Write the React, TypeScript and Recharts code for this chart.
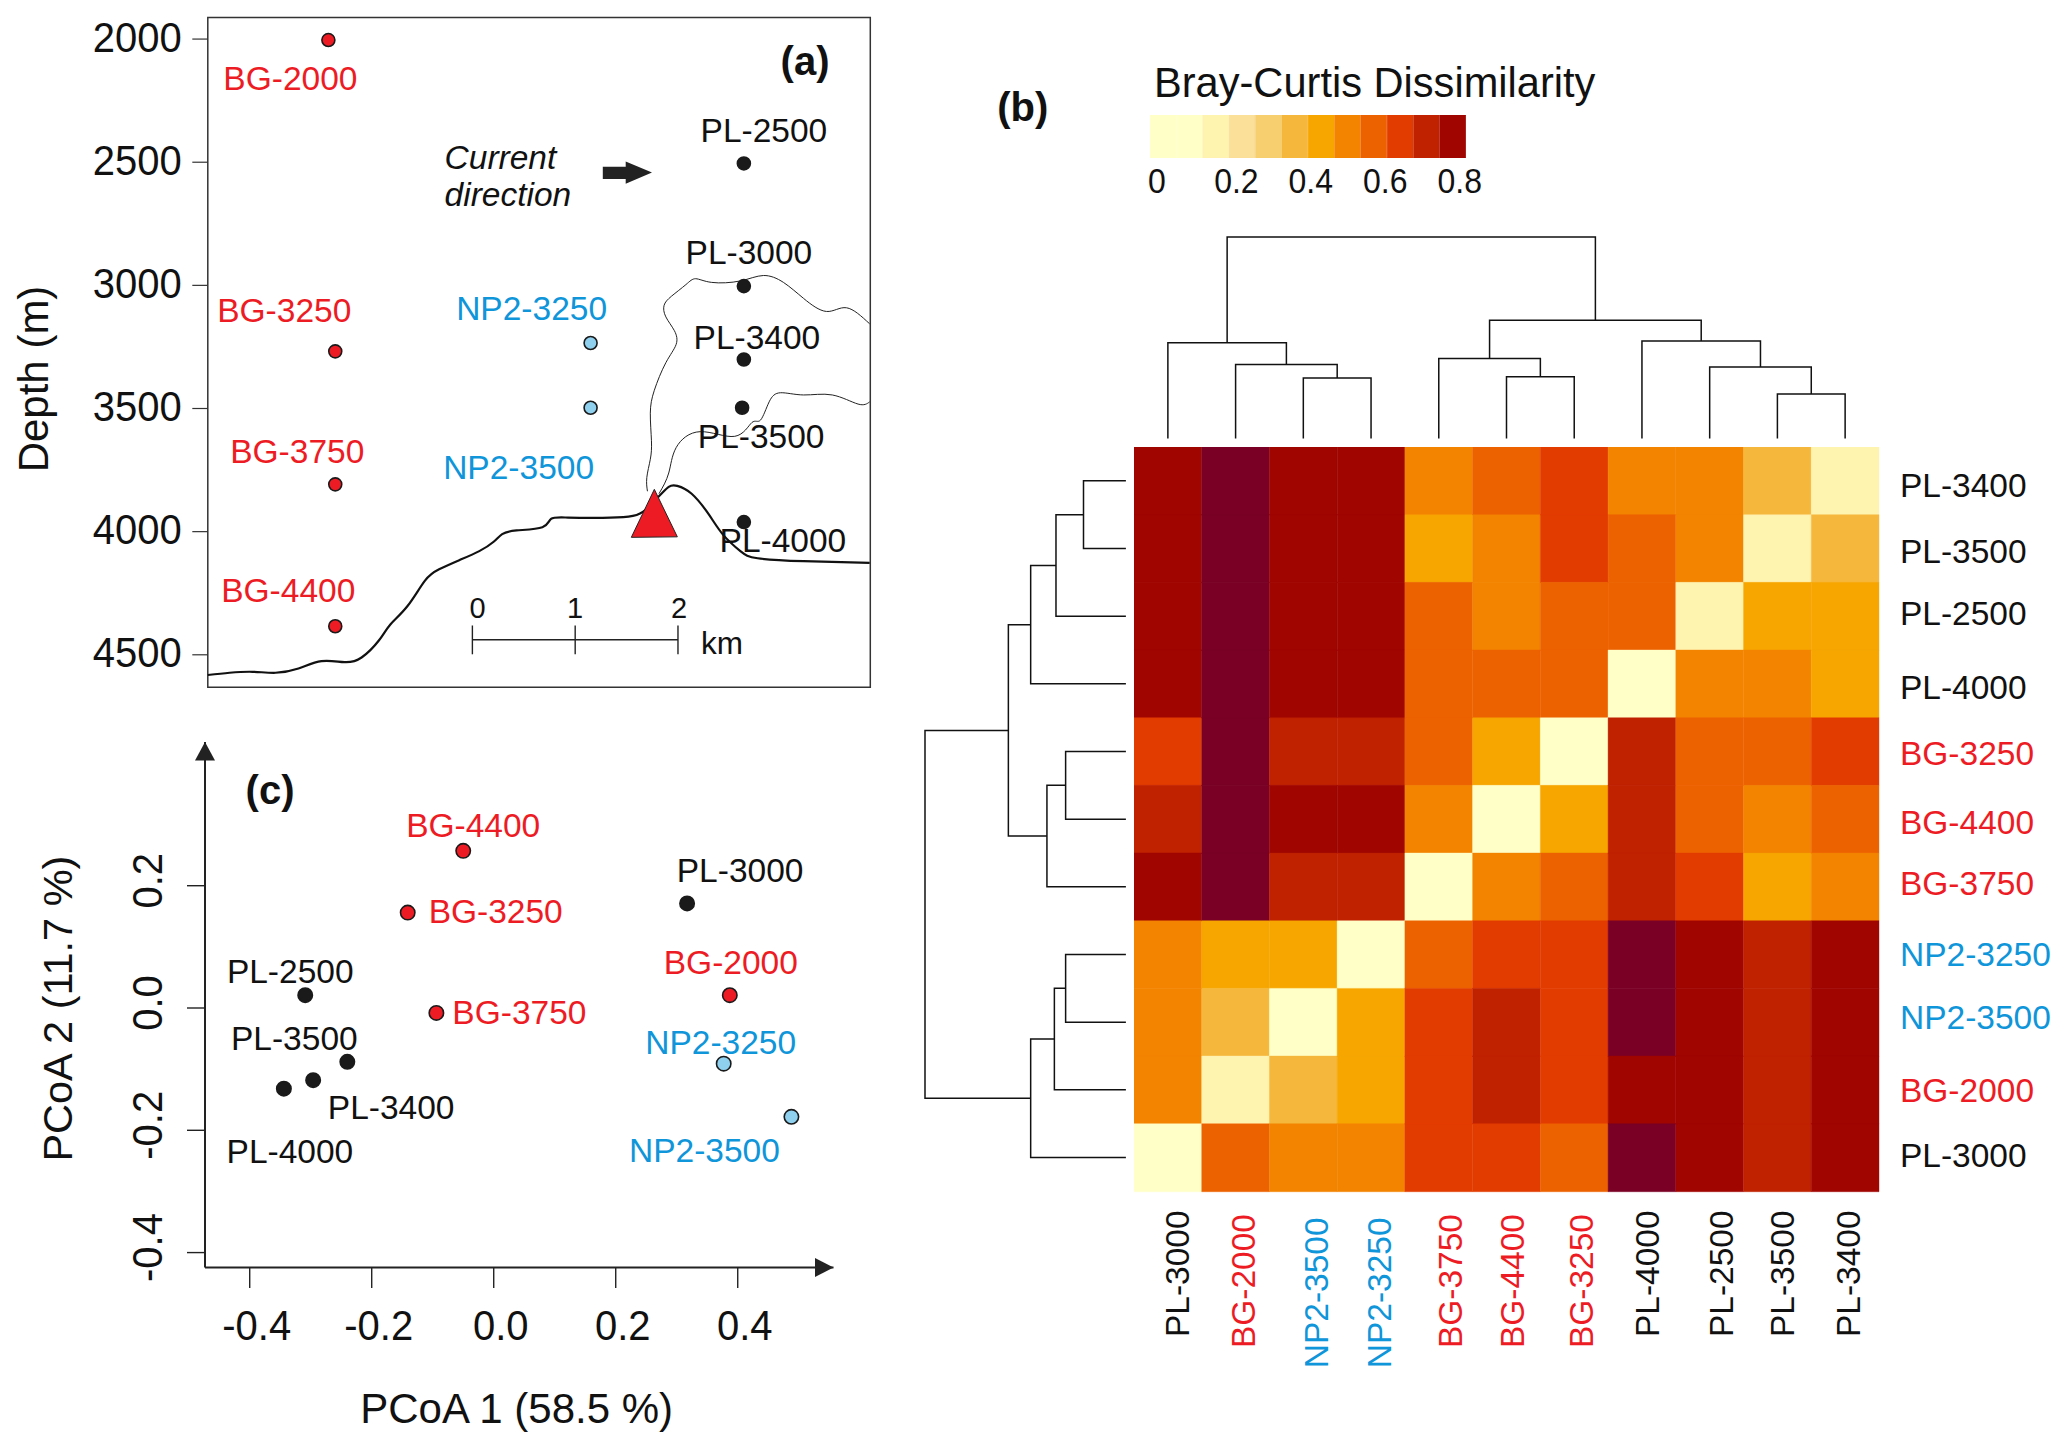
import React from 'react'
import { BarChart, Bar, Cell, ScatterChart, Scatter, XAxis, YAxis, ReferenceArea, ReferenceLine } from 'recharts'

const FONT = '"Liberation Sans", Arial, sans-serif'
const RED = '#ed1c24'
const BLUE = '#0f95d9'
const INK = '#111111'

// (a) stations: km along the transect, depth in m
const stationNames = ['BG-2000', 'BG-3250', 'BG-3750', 'BG-4400', 'NP2-3250', 'NP2-3500', 'PL-2500', 'PL-3000', 'PL-3400', 'PL-3500', 'PL-4000']
const stationKm = [-1.401, -1.334, -1.334, -1.334, 1.15, 1.15, 2.641, 2.641, 2.641, 2.624, 2.641]
const stationDepth = [2004, 3268, 3808, 4384, 3234, 3497, 2505, 3003, 3301, 3497, 3961]

// (a) bathymetry
const seabedKm = [-2.574, -2.362, -2.138, -1.915, -1.692, -1.468, -1.245, -1.078, -0.91, -0.798, -0.631, -0.463, -0.324, -0.128, 0.067, 0.207, 0.29, 0.43, 0.681, 0.765, 0.932, 1.267, 1.519, 1.658, 1.798, 1.91, 1.993, 2.133, 2.3, 2.44, 2.607, 2.775, 3.222, 3.865]
const seabedDepth = [4582, 4573, 4569, 4573, 4556, 4526, 4530, 4511, 4442, 4377, 4302, 4200, 4153, 4116, 4079, 4041, 4010, 3995, 3982, 3948, 3943, 3944, 3939, 3920, 3864, 3818, 3814, 3846, 3930, 4013, 4079, 4108, 4120, 4127]
const upperKm = [1.703, 1.697, 1.731, 1.742, 1.731, 1.77, 1.882, 1.982, 1.965, 1.882, 1.865, 1.937, 2.077, 2.172, 2.328, 2.607, 2.831, 3.026, 3.222, 3.445, 3.64, 3.864]
const upperDepth = [3836, 3780, 3706, 3631, 3519, 3426, 3314, 3240, 3184, 3128, 3081, 3044, 2997, 2973, 2988, 2982, 2960, 2988, 3053, 3106, 3091, 3156]
const lowerKm = [1.815, 1.91, 1.982, 2.217, 2.552, 2.719, 2.803, 2.887, 2.998, 3.222, 3.501, 3.752, 3.865]
const lowerDepth = [3846, 3762, 3659, 3594, 3613, 3557, 3547, 3473, 3436, 3445, 3445, 3482, 3473]
const depthTicks = [2000, 2500, 3000, 3500, 4000, 4500]

// (c) ordination
const pcoaNames = ['BG-4400', 'BG-3250', 'BG-3750', 'BG-2000', 'NP2-3250', 'NP2-3500', 'PL-3000', 'PL-2500', 'PL-3500', 'PL-3400', 'PL-4000']
const pcoa1 = [-0.05, -0.141, -0.094, 0.387, 0.377, 0.488, 0.317, -0.309, -0.24, -0.296, -0.344]
const pcoa2 = [0.257, 0.156, -0.008, 0.021, -0.091, -0.178, 0.171, 0.021, -0.088, -0.118, -0.132]
const pcoaXTicks = [-0.4, -0.2, 0, 0.2, 0.4]
const pcoaYTicks = [-0.4, -0.2, 0, 0.2]

// (b) heatmap
const rowNames = ['PL-3400', 'PL-3500', 'PL-2500', 'PL-4000', 'BG-3250', 'BG-4400', 'BG-3750', 'NP2-3250', 'NP2-3500', 'BG-2000', 'PL-3000']
const colNames = ['PL-3000', 'BG-2000', 'NP2-3500', 'NP2-3250', 'BG-3750', 'BG-4400', 'BG-3250', 'PL-4000', 'PL-2500', 'PL-3500', 'PL-3400']
const dissimilarity = [
  [0.77, 0.85, 0.77, 0.77, 0.5, 0.57, 0.63, 0.5, 0.5, 0.37, 0.15],
  [0.77, 0.85, 0.77, 0.77, 0.43, 0.5, 0.63, 0.57, 0.5, 0.15, 0.37],
  [0.77, 0.85, 0.77, 0.77, 0.57, 0.5, 0.57, 0.57, 0.15, 0.43, 0.43],
  [0.77, 0.85, 0.77, 0.77, 0.57, 0.57, 0.57, 0, 0.5, 0.5, 0.43],
  [0.63, 0.85, 0.7, 0.7, 0.57, 0.43, 0, 0.7, 0.57, 0.57, 0.63],
  [0.7, 0.85, 0.77, 0.77, 0.5, 0, 0.43, 0.7, 0.57, 0.5, 0.57],
  [0.77, 0.85, 0.7, 0.7, 0, 0.5, 0.57, 0.7, 0.63, 0.43, 0.5],
  [0.5, 0.43, 0.43, 0, 0.57, 0.63, 0.63, 0.85, 0.77, 0.7, 0.77],
  [0.5, 0.37, 0, 0.43, 0.63, 0.7, 0.63, 0.85, 0.77, 0.7, 0.77],
  [0.5, 0.15, 0.37, 0.43, 0.63, 0.7, 0.63, 0.77, 0.77, 0.7, 0.77],
  [0, 0.57, 0.5, 0.5, 0.63, 0.63, 0.57, 0.85, 0.77, 0.7, 0.77],
]
const binColors = ['#ffffc8', '#ffffc8', '#fff3b0', '#fbe09a', '#f7cf6e', '#f6b83c', '#f7a600', '#f38400', '#ed6200', '#e23c00', '#c02200', '#a00500', '#7a0026']
const legendLabels = ['0', '0.2', '0.4', '0.6', '0.8']

// dendrograms, hclust style merge: negative = leaf, positive = earlier merge
const colMerge = [[-3, -4], [-2, 1], [-1, 2], [-6, -7], [-5, 4], [-10, -11], [-9, 6], [-8, 7], [5, 8], [3, 9]]
const colHeight = [0.301, 0.367, 0.476, 0.307, 0.397, 0.221, 0.355, 0.484, 0.587, 1]
const rowMerge = [[-1, -2], [1, -3], [2, -4], [-5, -6], [4, -7], [3, 5], [-8, -9], [7, -10], [8, -11], [6, 9]]
const rowHeight = [0.211, 0.348, 0.474, 0.3, 0.393, 0.585, 0.3, 0.356, 0.474, 1]

// hand nudges for the text, the figure was assembled by hand
const stationLabelAt: Record<string, number[]> = {
  'BG-2000': [-38, 49.5], 'BG-3250': [-51, -29.5], 'BG-3750': [-38, -21.5], 'BG-4400': [-47, -24],
  'NP2-3250': [-59, -23], 'NP2-3500': [-72, 71], 'PL-2500': [20, -21], 'PL-3000': [5, -22],
  'PL-3400': [13, -10], 'PL-3500': [19, 40], 'PL-4000': [39, 30],
}
const pcoaLabelAt: Record<string, number[]> = {
  'BG-4400': [10, -14], 'BG-3250': [88, 10], 'BG-3750': [83, 11], 'BG-2000': [1, -21],
  'NP2-3250': [-3, -10], 'NP2-3500': [-87, 45], 'PL-3000': [53, -21], 'PL-2500': [-15, -12],
  'PL-3500': [-53, -12], 'PL-3400': [78, 39], 'PL-4000': [6, 74],
}
const rowLabelDy = [4.5, 2.7, -2.5, 3, 1.7, 2.7, -3.8, 0, -4.5, 0, -1.9]
const colLabelDx = [9.7, 8.2, 13.4, 8.2, 11.9, 6, 6.7, 5.2, 11.2, 4.5, 3]
const colLabelDy = [17, 20.7, 24, 24, 20.7, 20.7, 20.7, 17, 17, 17, 17]

const nameColor = (name: string) => (name.startsWith('BG') ? RED : name.startsWith('NP2') ? BLUE : INK)
const dotColor = (name: string) => (name.startsWith('BG') ? RED : name.startsWith('NP2') ? '#8fd0ef' : '#1a1a1a')
const cellColor = (v: number) => binColors[Math.min(Math.floor(v / 0.0667), 12)]

const stations = stationNames.map((name, i) => ({ name, km: stationKm[i], depth: stationDepth[i] }))
const toLine = (kms: number[], depths: number[]) => kms.map((km, i) => ({ km, depth: depths[i] }))
const pcoaPoints = pcoaNames.map((name, i) => ({ name, x: pcoa1[i], y: pcoa2[i] }))
const heatRows = rowNames.map(row => {
  const r: any = { row }
  colNames.forEach(c => { r[c] = 1 })
  return r
})
const legendBins = binColors.slice(0, 12).map((fill, i) => ({ bin: i, one: 1, fill }))

// walk a merge table and return one [pos, height] polyline per merge
function dendroLinks(merge: number[][], height: number[]) {
  const pos: number[] = []
  const node = (id: number) => (id < 0 ? { p: -id - 0.5, h: 0 } : { p: pos[id - 1], h: height[id - 1] })
  return merge.map(([a, b], i) => {
    const l = node(a)
    const r = node(b)
    pos[i] = (l.p + r.p) / 2
    return [[l.p, l.h], [l.p, height[i]], [r.p, height[i]], [r.p, r.h]]
  })
}

const noDot = () => null

// stretch: the ticks in the source are a bit taller than wide
function T({ x, y, size = 33.5, color = INK, anchor = 'middle', rotate, bold, italic, stretch = 1, children }: any) {
  const tf = rotate
    ? `translate(${x} ${y}) rotate(-90) scale(1 ${stretch})`
    : `translate(${x} ${y}) scale(${1 / stretch} 1)`
  return (
    <text
      x={0}
      y={0}
      transform={tf}
      fontFamily={FONT}
      fontSize={rotate ? size : size * stretch}
      fill={color}
      textAnchor={anchor}
      fontWeight={bold ? 'bold' : 'normal'}
      fontStyle={italic ? 'italic' : 'normal'}
    >
      {children}
    </text>
  )
}

const abs = (left: number, top: number): React.CSSProperties => ({ position: 'absolute', left, top })

function LabelledDot(props: any, labels: Record<string, number[]>, r: number) {
  const { cx, cy, payload } = props
  const [dx, dy] = labels[payload.name]
  return (
    <g>
      <circle cx={cx} cy={cy} r={r} fill={dotColor(payload.name)} stroke="#1a1a1a" strokeWidth={1.6} />
      <T x={cx + dx} y={cy + dy} color={nameColor(payload.name)}>{payload.name}</T>
    </g>
  )
}

function Vent(props: any) {
  const { cx, cy } = props
  return <polygon points={`${cx},${cy - 29.5} ${cx - 23},${cy + 18.5} ${cx + 23},${cy + 18}`} fill={RED} stroke="#222" strokeWidth={1} />
}

function PanelA() {
  return (
    <div style={abs(0, 0)}>
      <ScatterChart width={900} height={700} margin={{ top: 17.4, right: 29.7, bottom: 12.7, left: 0 }}>
        <XAxis type="number" dataKey="km" domain={[-2.574, 3.871]} hide />
        <YAxis
          type="number"
          dataKey="depth"
          reversed
          width={207.8}
          domain={[1912, 4632]}
          ticks={depthTicks}
          interval={0}
          axisLine={false}
          tickSize={15.5}
          tickLine={{ stroke: '#333', strokeWidth: 1.2 }}
          tick={(p: any) => <T x={p.x - 8.5} y={p.y + 12.5} size={40} stretch={1.08} anchor="end">{p.payload.value}</T>}
        />
        <ReferenceArea x1={-2.574} x2={3.871} y1={1912} y2={4632} fill="none" stroke="#333" strokeWidth={1.5} fillOpacity={0} />
        <Scatter data={toLine(upperKm, upperDepth)} shape={noDot} line={{ stroke: '#222', strokeWidth: 1 }} lineJointType="natural" isAnimationActive={false} />
        <Scatter data={toLine(lowerKm, lowerDepth)} shape={noDot} line={{ stroke: '#222', strokeWidth: 1 }} lineJointType="natural" isAnimationActive={false} />
        <Scatter data={toLine(seabedKm, seabedDepth)} shape={noDot} line={{ stroke: '#111', strokeWidth: 2.2 }} lineJointType="natural" isAnimationActive={false} />
        <Scatter data={[{ km: 1.77, depth: 3948 }]} shape={Vent} isAnimationActive={false} />
        <Scatter data={stations} shape={(p: any) => LabelledDot(p, stationLabelAt, 6.5)} isAnimationActive={false} />
        {/* scale bar */}
        <ReferenceLine segment={[{ x: 0, y: 4439 }, { x: 2, y: 4439 }]} stroke="#222" strokeWidth={1.4} />
        <ReferenceLine segment={[{ x: 0, y: 4381 }, { x: 0, y: 4498 }]} stroke="#222" strokeWidth={1.4} />
        <ReferenceLine segment={[{ x: 1, y: 4381 }, { x: 1, y: 4498 }]} stroke="#222" strokeWidth={1.4} />
        <ReferenceLine segment={[{ x: 2, y: 4381 }, { x: 2, y: 4498 }]} stroke="#222" strokeWidth={1.4} />
      </ScatterChart>
    </div>
  )
}

function PanelC() {
  return (
    <div style={abs(0, 720)}>
      <ScatterChart width={900} height={730} margin={{ top: 21.9, right: 66.5, bottom: 122.5, left: 0 }}>
        <XAxis
          type="number"
          dataKey="x"
          domain={[-0.4733, 0.557]}
          ticks={pcoaXTicks}
          interval={0}
          height={60}
          tickSize={20.5}
          axisLine={{ stroke: '#222', strokeWidth: 2 }}
          tickLine={{ stroke: '#222', strokeWidth: 1.4 }}
          tick={(p: any) => <T x={p.x + 7} y={p.y + 50} size={40} stretch={1.08}>{p.payload.value.toFixed(1)}</T>}
        />
        <YAxis
          type="number"
          dataKey="y"
          width={205}
          domain={[-0.4244, 0.4352]}
          ticks={pcoaYTicks}
          interval={0}
          tickSize={18}
          axisLine={{ stroke: '#222', strokeWidth: 2 }}
          tickLine={{ stroke: '#222', strokeWidth: 1.4 }}
          tick={(p: any) => <T x={p.x - 23} y={p.y - 5} size={40} stretch={1.08} rotate>{p.payload.value.toFixed(1)}</T>}
        />
        <Scatter data={pcoaPoints} shape={(p: any) => LabelledDot(p, pcoaLabelAt, 7.2)} isAnimationActive={false} />
      </ScatterChart>
    </div>
  )
}

function Heatmap() {
  return (
    <div style={abs(1133.7, 446.6)}>
      <BarChart layout="vertical" width={933.3} height={1003.4} data={heatRows} margin={{ top: 0, right: 0, bottom: 0, left: 0 }} barCategoryGap={0}>
        <XAxis
          type="number"
          domain={[0, 11]}
          ticks={colNames.map((_, i) => i + 0.5)}
          interval={0}
          height={259}
          axisLine={false}
          tickLine={false}
          tickSize={0}
          tick={(p: any) => {
            const i = p.index
            return <T x={p.x + colLabelDx[i] + 11.7} y={p.y + colLabelDy[i]} anchor="end" color={nameColor(colNames[i])} rotate>{colNames[i]}</T>
          }}
        />
        <YAxis
          type="category"
          dataKey="row"
          orientation="right"
          width={188.3}
          interval={0}
          axisLine={false}
          tickLine={false}
          tickSize={0}
          tick={(p: any) => {
            const i = p.index
            return <T x={p.x + 19} y={p.y + rowLabelDy[i] + 11.7} anchor="start" color={nameColor(rowNames[i])}>{rowNames[i]}</T>
          }}
        />
        {colNames.map((c, j) => (
          <Bar key={c} dataKey={c} stackId="heat" isAnimationActive={false}>
            {rowNames.map((r, i) => {
              const fill = cellColor(dissimilarity[i][j])
              return <Cell key={r} fill={fill} stroke={fill} strokeWidth={0.4} />
            })}
          </Bar>
        ))}
      </BarChart>
    </div>
  )
}

function Legend() {
  return (
    <div style={abs(1149.5, 115)}>
      <BarChart width={316.2} height={43} data={legendBins} margin={{ top: 0, right: 0, bottom: 0, left: 0 }} barCategoryGap={0}>
        <XAxis dataKey="bin" type="category" hide />
        <YAxis type="number" domain={[0, 1]} hide />
        <Bar dataKey="one" isAnimationActive={false}>
          {legendBins.map(b => <Cell key={b.bin} fill={b.fill} stroke={b.fill} strokeWidth={0.4} />)}
        </Bar>
      </BarChart>
    </div>
  )
}

function TopDendro() {
  return (
    <div style={abs(1133.7 - 4, 236.7 - 4)}>
      <ScatterChart width={753} height={209.6} margin={{ top: 4, right: 4, bottom: 4, left: 4 }}>
        <XAxis type="number" dataKey="x" domain={[0, 11]} hide />
        <YAxis type="number" dataKey="y" domain={[0, 1]} hide />
        {dendroLinks(colMerge, colHeight).map((link, i) => (
          <Scatter key={i} data={link.map(([p, h]) => ({ x: p, y: h }))} shape={noDot} line={{ stroke: '#111', strokeWidth: 1.5 }} isAnimationActive={false} />
        ))}
      </ScatterChart>
    </div>
  )
}

function LeftDendro() {
  return (
    <div style={abs(924.6 - 4, 446.6 - 4)}>
      <ScatterChart width={208.9} height={752.4} margin={{ top: 4, right: 4, bottom: 4, left: 4 }}>
        <XAxis type="number" dataKey="x" domain={[0, 1]} reversed hide />
        <YAxis type="number" dataKey="y" domain={[0, 11]} reversed hide />
        {dendroLinks(rowMerge, rowHeight).map((link, i) => (
          <Scatter key={i} data={link.map(([p, h]) => ({ x: h, y: p }))} shape={noDot} line={{ stroke: '#111', strokeWidth: 1.5 }} isAnimationActive={false} />
        ))}
      </ScatterChart>
    </div>
  )
}

// panel letters, axis titles and arrows
function Annotations() {
  const legendX = [1156.8, 1236.4, 1310.8, 1385.3, 1459.7]
  return (
    <svg width={2067} height={1450} style={{ ...abs(0, 0), pointerEvents: 'none' }}>
      <T x={48} y={379} size={42} rotate>Depth (m)</T>
      <T x={805} y={75} size={40} bold>(a)</T>
      <T x={444.6} y={168.5} anchor="start" italic>Current</T>
      <T x={444.6} y={205.7} anchor="start" italic>direction</T>
      <polygon points="602.8,166.7 625.7,166.7 625.7,161.6 652,172.6 625.7,183.7 625.7,179 602.8,179" fill="#222" />
      <T x={477.6} y={617.5} size={29}>0</T>
      <T x={575} y={617.5} size={29}>1</T>
      <T x={679} y={617.5} size={29}>2</T>
      <T x={722} y={654} size={31.5}>km</T>

      <T x={1022.8} y={121} size={40} bold>(b)</T>
      <T x={1154} y={97} size={41.6} anchor="start">Bray-Curtis Dissimilarity</T>
      {legendLabels.map((l, i) => <T key={l} x={legendX[i]} y={193} size={32} stretch={1.08}>{l}</T>)}

      <T x={270} y={804} size={40} bold>(c)</T>
      <T x={516.6} y={1423} size={42}>PCoA 1 (58.5 %)</T>
      <T x={71.8} y={1008.6} size={41.5} rotate>PCoA 2 (11.7 %)</T>
      <polygon points="205,741.9 195,760.5 215,760.5" fill="#222" />
      <polygon points="833.5,1267.5 815,1258 815,1277" fill="#222" />
    </svg>
  )
}

export default function App() {
  return (
    <div style={{ ...abs(0, 0), width: 2067, height: 1450, background: '#fff' }}>
      <PanelA />
      <PanelC />
      <TopDendro />
      <LeftDendro />
      <Heatmap />
      <Legend />
      <Annotations />
    </div>
  )
}
